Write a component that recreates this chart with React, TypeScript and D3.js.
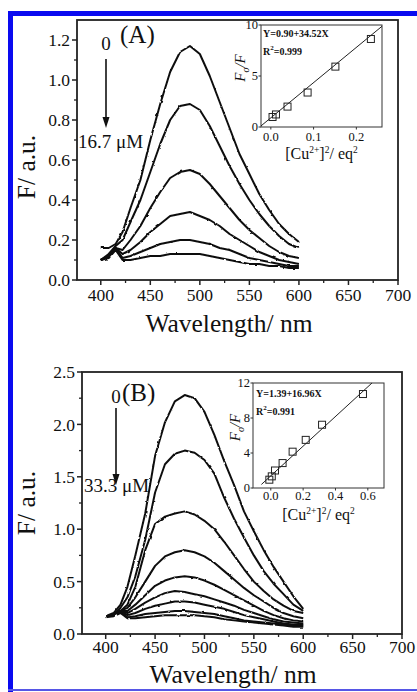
import React from "react";
import * as d3 from "d3";

const W = 417;
const H = 692;
const serif = "'Liberation Serif', 'Times New Roman', serif";

// emission wavelengths (nm), shared by every spectrum
const wavelengths = [400, 408, 415, 422, 430, 440, 450, 460, 470, 480, 490, 500, 510, 520, 530, 540, 550, 560, 570, 580, 590, 600];

// (A) spectra, 0 -> 16.7 uM Cu2+
const specA1 = [0.16, 0.16, 0.18, 0.24, 0.36, 0.5, 0.7, 0.88, 1.04, 1.14, 1.17, 1.13, 1.02, 0.89, 0.76, 0.63, 0.53, 0.43, 0.35, 0.28, 0.23, 0.19];
const specA2 = [0.1, 0.13, 0.17, 0.2, 0.29, 0.4, 0.54, 0.68, 0.8, 0.87, 0.88, 0.85, 0.77, 0.67, 0.57, 0.48, 0.4, 0.33, 0.27, 0.22, 0.18, 0.16];
const specA3 = [0.1, 0.12, 0.16, 0.15, 0.2, 0.27, 0.36, 0.44, 0.51, 0.54, 0.55, 0.53, 0.48, 0.42, 0.36, 0.3, 0.25, 0.21, 0.17, 0.14, 0.12, 0.11];
const specA4 = [0.1, 0.12, 0.16, 0.13, 0.15, 0.19, 0.24, 0.28, 0.32, 0.33, 0.34, 0.32, 0.3, 0.27, 0.23, 0.2, 0.17, 0.14, 0.12, 0.1, 0.09, 0.08];
const specA5 = [0.1, 0.12, 0.16, 0.11, 0.12, 0.14, 0.16, 0.18, 0.19, 0.2, 0.2, 0.19, 0.18, 0.16, 0.15, 0.13, 0.11, 0.1, 0.09, 0.08, 0.07, 0.07];
const specA6 = [0.1, 0.11, 0.15, 0.1, 0.1, 0.11, 0.12, 0.12, 0.13, 0.13, 0.13, 0.13, 0.12, 0.11, 0.1, 0.09, 0.08, 0.08, 0.07, 0.07, 0.06, 0.06];

// (B) spectra, 0 -> 33.3 uM Cu2+
const specB1 = [0.17, 0.2, 0.28, 0.45, 0.75, 1.15, 1.7, 2.02, 2.22, 2.28, 2.25, 2.12, 1.9, 1.65, 1.42, 1.17, 0.98, 0.8, 0.64, 0.5, 0.36, 0.24];
const specB2 = [0.17, 0.18, 0.25, 0.35, 0.55, 0.9, 1.35, 1.62, 1.72, 1.75, 1.73, 1.66, 1.53, 1.3, 1.1, 0.92, 0.75, 0.6, 0.48, 0.38, 0.28, 0.22];
const specB3 = [0.17, 0.18, 0.22, 0.28, 0.45, 0.8, 1.05, 1.12, 1.15, 1.17, 1.14, 1.08, 1.0, 0.88, 0.75, 0.62, 0.5, 0.41, 0.33, 0.27, 0.22, 0.2];
const specB4 = [0.17, 0.18, 0.22, 0.25, 0.35, 0.5, 0.65, 0.74, 0.78, 0.8, 0.78, 0.74, 0.68, 0.6, 0.52, 0.44, 0.37, 0.31, 0.25, 0.2, 0.17, 0.15];
const specB5 = [0.17, 0.18, 0.22, 0.22, 0.28, 0.37, 0.46, 0.51, 0.54, 0.55, 0.54, 0.51, 0.47, 0.42, 0.37, 0.32, 0.27, 0.22, 0.18, 0.15, 0.13, 0.12];
const specB6 = [0.17, 0.18, 0.22, 0.2, 0.24, 0.3, 0.35, 0.39, 0.41, 0.4, 0.38, 0.36, 0.33, 0.3, 0.27, 0.23, 0.2, 0.17, 0.14, 0.12, 0.11, 0.1];
const specB7 = [0.17, 0.18, 0.22, 0.18, 0.2, 0.24, 0.27, 0.29, 0.31, 0.31, 0.3, 0.28, 0.26, 0.24, 0.21, 0.18, 0.16, 0.14, 0.12, 0.1, 0.09, 0.09];
const specB8 = [0.17, 0.18, 0.21, 0.16, 0.17, 0.19, 0.2, 0.21, 0.22, 0.22, 0.21, 0.2, 0.19, 0.17, 0.15, 0.13, 0.12, 0.11, 0.1, 0.09, 0.08, 0.08];
const specB9 = [0.16, 0.17, 0.2, 0.15, 0.15, 0.16, 0.17, 0.18, 0.18, 0.18, 0.18, 0.17, 0.16, 0.14, 0.13, 0.12, 0.11, 0.1, 0.09, 0.08, 0.07, 0.07];

// Stern-Volmer insets
const sqCuA = [0.004, 0.012, 0.039, 0.086, 0.151, 0.234];
const f0fA = [0.98, 1.23, 2.0, 3.38, 5.92, 8.63];
const fitA = [0.9, 34.52]; // intercept, slope
const sqCuB = [-0.009, 0.006, 0.026, 0.073, 0.135, 0.216, 0.317, 0.57];
const f0fB = [0.95, 1.33, 2.0, 2.85, 4.15, 5.5, 7.23, 10.74];
const fitB = [1.39, 16.96];

// ticks
const xTicks = [400, 450, 500, 550, 600, 650, 700];
const xMinor = [425, 475, 525, 575, 625, 675];
const yTicksA = [0, 0.2, 0.4, 0.6, 0.8, 1.0, 1.2];
const yMinorA = [0.1, 0.3, 0.5, 0.7, 0.9, 1.1];
const yTicksB = [0, 0.5, 1.0, 1.5, 2.0, 2.5];
const yMinorB = [0.25, 0.75, 1.25, 1.75, 2.25];
const insetXTicksA = [0, 0.1, 0.2];
const insetYTicksA = [0, 5, 10];
const insetXTicksB = [0, 0.2, 0.4, 0.6];
const insetYTicksB = [0, 4, 8, 12];

type Box = { x0: number; x1: number; y0: number; y1: number };

function Spectra(props: {
  box: Box; xDomain: [number, number]; yDomain: [number, number];
  yTicks: number[]; yMinor: number[]; xLabelDy: number;
  series: number[][]; titleX: number; titleY: number; yTitleY: number;
}) {
  const { box, series } = props;
  const x = d3.scaleLinear().domain(props.xDomain).range([box.x0, box.x1]);
  const y = d3.scaleLinear().domain(props.yDomain).range([box.y1, box.y0]);
  const line = d3.line<number>().x((_, i) => x(wavelengths[i])).y(d => y(d));
  const fmt = d3.format(".1f");
  return (
    <g fontFamily={serif} fill="#111">
      {/* recorded spectra are noisy: a light displacement gives the traces a rough edge */}
      <g filter="url(#rough)">
        {series.map((s, i) => (
          <path key={i} d={line(s) || ""} fill="none" stroke="#111" strokeWidth={2} strokeLinejoin="round" />
        ))}
      </g>
      <rect x={box.x0} y={box.y0} width={box.x1 - box.x0} height={box.y1 - box.y0} fill="none" stroke="#222" strokeWidth={1.8} />
      {xTicks.map(t => (
        <g key={t}>
          <line x1={x(t)} x2={x(t)} y1={box.y1} y2={box.y1 + 5} stroke="#222" strokeWidth={1.5} />
          <text x={x(t)} y={box.y1 + props.xLabelDy} fontSize={17.5} textAnchor="middle">{t}</text>
        </g>
      ))}
      {xMinor.map(t => (
        <line key={t} x1={x(t)} x2={x(t)} y1={box.y1} y2={box.y1 + 3} stroke="#222" strokeWidth={1.3} />
      ))}
      {props.yTicks.map(t => (
        <g key={t}>
          <line x1={box.x0 - 5} x2={box.x0} y1={y(t)} y2={y(t)} stroke="#222" strokeWidth={1.5} />
          <text x={box.x0 - 7} y={y(t)} dy="0.35em" fontSize={17.5} textAnchor="end">{fmt(t)}</text>
        </g>
      ))}
      {props.yMinor.map(t => (
        <line key={t} x1={box.x0 - 3} x2={box.x0} y1={y(t)} y2={y(t)} stroke="#222" strokeWidth={1.3} />
      ))}
      <text x={props.titleX} y={props.titleY} fontSize={25.5} textAnchor="middle">Wavelength/ nm</text>
      <text transform={`translate(35,${props.yTitleY}) rotate(-90)`} fontSize={25.5} textAnchor="middle">F/ a.u.</text>
    </g>
  );
}

function Inset(props: {
  box: Box; xDomain: [number, number]; yDomain: [number, number];
  xTicks: number[]; yTicks: number[]; px: number[]; py: number[]; fit: number[];
  fitRange: [number, number]; xLabelDy: number; titleY: number; yTitleX: number;
  eq: string; r2: string; eqX: number; eqY: number;
}) {
  const { box } = props;
  const x = d3.scaleLinear().domain(props.xDomain).range([box.x0, box.x1]);
  const y = d3.scaleLinear().domain(props.yDomain).range([box.y1, box.y0]);
  const fitLine = d3.line<number>().x(d => x(d)).y(d => y(props.fit[0] + props.fit[1] * d));
  const cx = (box.x0 + box.x1) / 2;
  const cy = (box.y0 + box.y1) / 2;
  return (
    <g fontFamily={serif} fill="#111">
      <rect x={box.x0} y={box.y0} width={box.x1 - box.x0} height={box.y1 - box.y0} fill="#fff" stroke="#333" strokeWidth={1} />
      <path d={fitLine(props.fitRange) || ""} stroke="#222" strokeWidth={1} fill="none" />
      {props.px.map((v, i) => (
        <rect key={i} x={x(v) - 3.5} y={y(props.py[i]) - 3.5} width={7} height={7} fill="none" stroke="#222" strokeWidth={1} />
      ))}
      {props.xTicks.map(t => (
        <g key={t}>
          <line x1={x(t)} x2={x(t)} y1={box.y1} y2={box.y1 + 2.5} stroke="#333" />
          <text x={x(t)} y={box.y1 + props.xLabelDy} fontSize={12.5} textAnchor="middle">{d3.format(".1f")(t)}</text>
        </g>
      ))}
      {props.yTicks.map(t => (
        <g key={t}>
          <line x1={box.x0 - 2.5} x2={box.x0} y1={y(t)} y2={y(t)} stroke="#333" />
          <text x={box.x0 - 3} y={y(t)} dy="0.35em" fontSize={12.5} textAnchor="end">{t}</text>
        </g>
      ))}
      <text x={cx} y={props.titleY} fontSize={16} textAnchor="middle">
        [Cu<tspan fontSize={9.5} dy={-6}>2+</tspan><tspan dy={6}>]</tspan>
        <tspan fontSize={9.5} dy={-6}>2</tspan><tspan dy={6}>/ eq</tspan>
        <tspan fontSize={9.5} dy={-6}>2</tspan>
      </text>
      <text transform={`translate(${props.yTitleX},${cy - 8}) rotate(-90)`} fontSize={15} fontStyle="italic" textAnchor="middle">
        F<tspan fontSize={10} dy={4}>o</tspan><tspan dy={-4}>/F</tspan>
      </text>
      <text x={props.eqX} y={props.eqY} fontSize={10} fontWeight="bold">{props.eq}</text>
      <text x={props.eqX} y={props.eqY + 18} fontSize={10} fontWeight="bold">
        R<tspan fontSize={7} dy={-5}>2</tspan><tspan dy={5}>{props.r2}</tspan>
      </text>
    </g>
  );
}

function Arrow({ x, y0, y1 }: { x: number; y0: number; y1: number }) {
  return (
    <g>
      <line x1={x} x2={x} y1={y0} y2={y1 - 10} stroke="#111" strokeWidth={1.6} />
      <polygon points={`${x - 3.5},${y1 - 11} ${x + 3.5},${y1 - 11} ${x},${y1}`} fill="#111" />
    </g>
  );
}

export default function App() {
  return (
    <svg width={W} height={H} style={{ position: "absolute", left: 0, top: 0, background: "#fff" }}>
      <defs>
        <filter id="rough" x="-5%" y="-5%" width="110%" height="110%">
          <feTurbulence type="fractalNoise" baseFrequency="0.22" numOctaves={1} seed={5} result="noise" />
          <feDisplacementMap in="SourceGraphic" in2="noise" scale={2.4} xChannelSelector="R" yChannelSelector="G" />
        </filter>
      </defs>
      <rect x={0} y={0} width={W} height={H} fill="#fff" />
      <rect x={8} y={11} width={5} height={H - 11} fill="#0a0af0" />
      <rect x={8} y={11} width={W - 8} height={5} fill="#0a0af0" />
      <rect x={8} y={689} width={W - 8} height={2} fill="#5656e6" />

      <Spectra
        box={{ x0: 77, x1: 398, y0: 20, y1: 280 }}
        xDomain={[376, 700]} yDomain={[0, 1.3]}
        yTicks={yTicksA} yMinor={yMinorA} xLabelDy={21}
        series={[specA1, specA2, specA3, specA4, specA5, specA6]}
        titleX={229} titleY={332} yTitleY={167}
      />
      <Inset
        box={{ x0: 261, x1: 382, y0: 25, y1: 127 }}
        xDomain={[-0.023, 0.26]} yDomain={[0, 10]}
        xTicks={insetXTicksA} yTicks={insetYTicksA}
        px={sqCuA} py={f0fA} fit={fitA} fitRange={[-0.023, 0.26]}
        xLabelDy={14} titleY={159} yTitleX={245}
        eq="Y=0.90+34.52X" r2="=0.999" eqX={263} eqY={37}
      />
      <g fontFamily={serif} fill="#111">
        <text x={120} y={43} fontSize={25}>(A)</text>
        <text x={106} y={50} fontSize={19} textAnchor="middle">0</text>
        <text x={78} y={148} fontSize={19}>16.7 μM</text>
      </g>
      <Arrow x={106} y0={59} y1={128} />

      <Spectra
        box={{ x0: 82, x1: 402, y0: 372, y1: 634 }}
        xDomain={[376, 700]} yDomain={[0, 2.5]}
        yTicks={yTicksB} yMinor={yMinorB} xLabelDy={19}
        series={[specB1, specB2, specB3, specB4, specB5, specB6, specB7, specB8, specB9]}
        titleX={233} titleY={683} yTitleY={503}
      />
      <Inset
        box={{ x0: 253, x1: 384, y0: 383, y1: 488 }}
        xDomain={[-0.11, 0.7]} yDomain={[0, 12]}
        xTicks={insetXTicksB} yTicks={insetYTicksB}
        px={sqCuB} py={f0fB} fit={fitB} fitRange={[-0.058, 0.626]}
        xLabelDy={12} titleY={520} yTitleX={240}
        eq="Y=1.39+16.96X" r2="=0.991" eqX={256} eqY={397}
      />
      <g fontFamily={serif} fill="#111">
        <text x={122} y={401} fontSize={25}>(B)</text>
        <text x={116} y={403} fontSize={19} textAnchor="middle">0</text>
        <text x={84} y={492} fontSize={19}>33.3 μM</text>
      </g>
      <Arrow x={116} y0={408} y1={485} />
    </svg>
  );
}
